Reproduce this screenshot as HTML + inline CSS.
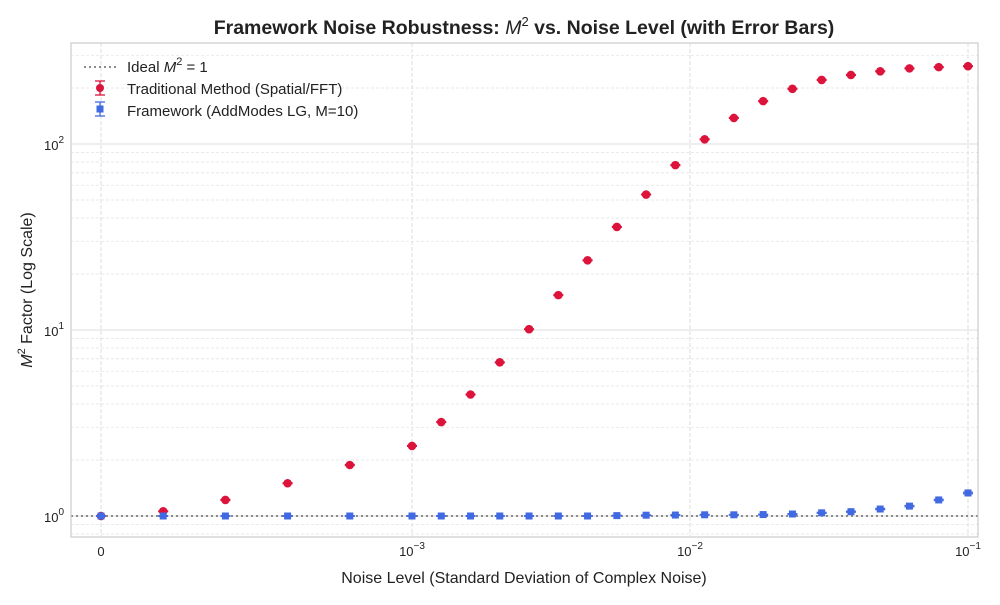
<!DOCTYPE html>
<html><head><meta charset="utf-8"><style>
body{margin:0;background:#fff;font-family:"Liberation Sans","DejaVu Sans",sans-serif;}
svg text{font-family:"Liberation Sans","DejaVu Sans",sans-serif;}
</style></head><body>
<svg id="chart" width="1000" height="600" viewBox="0 0 1000 600">
<rect x="0" y="0" width="1000" height="600" fill="#fff"/>
<g id="grid"></g>
<line x1="71" x2="978" y1="516" y2="516" stroke="#666" stroke-width="1.6" stroke-dasharray="2,3"/>
<g id="marks"></g>
<rect x="71" y="43" width="907" height="494" fill="none" stroke="#ccc" stroke-width="1.2"/>
<g id="ticks"></g>
<text x="524" y="34" text-anchor="middle" font-size="19.5" font-weight="bold" fill="#222">Framework Noise Robustness: <tspan font-style="italic" font-weight="normal">M</tspan><tspan font-size="13" font-weight="normal" dy="-8">2</tspan><tspan dy="8"> vs. Noise Level (with Error Bars)</tspan></text>
<text x="524" y="583" text-anchor="middle" font-size="16" fill="#222">Noise Level (Standard Deviation of Complex Noise)</text>
<text transform="translate(32,290) rotate(-90)" text-anchor="middle" font-size="16" fill="#222"><tspan font-style="italic">M</tspan><tspan font-size="11" dy="-7">2</tspan><tspan dy="7"> Factor (Log Scale)</tspan></text>
<g font-size="15" fill="#222">
<line x1="84" x2="116" y1="67" y2="67" stroke="#666" stroke-width="1.6" stroke-dasharray="2,3"/>
<text x="127" y="72">Ideal <tspan font-style="italic">M</tspan><tspan font-size="11" dy="-7">2</tspan><tspan dy="7"> = 1</tspan></text>
<line x1="100" x2="100" y1="81" y2="95" stroke="#dc143c" stroke-width="1.3"/><line x1="95" x2="105" y1="81" y2="81" stroke="#dc143c" stroke-width="1.3"/><line x1="95" x2="105" y1="95" y2="95" stroke="#dc143c" stroke-width="1.3"/><circle cx="100" cy="88" r="4" fill="#dc143c"/>
<text x="127" y="94">Traditional Method (Spatial/FFT)</text>
<line x1="100" x2="100" y1="102" y2="116" stroke="#4169e1" stroke-width="1.3"/><line x1="95" x2="105" y1="102" y2="102" stroke="#4169e1" stroke-width="1.3"/><line x1="95" x2="105" y1="116" y2="116" stroke="#4169e1" stroke-width="1.3"/><rect x="96.5" y="105.5" width="7" height="7" fill="#4169e1"/>
<text x="127" y="116">Framework (AddModes LG, M=10)</text>
</g>
</svg>
<script>
const noiseLevels=[0,0.0002,0.0004,0.0006,0.0008,0.001,0.001274,0.001624,0.002069,0.002637,0.003360,0.004281,0.005456,0.006952,0.008859,0.01129,0.01438,0.01833,0.02336,0.02976,0.03793,0.04833,0.06158,0.07848,0.1];
const traditionalM2=[1.0,1.06,1.22,1.50,1.88,2.38,3.2,4.5,6.7,10.1,15.4,23.7,35.8,53.5,77,106,138,170,198,221,235,246,255,259,262];
const traditionalErr=[0.005,0.005,0.006,0.008,0.01,0.012,0.016,0.022,0.033,0.05,0.077,0.12,0.18,0.27,0.38,0.53,0.69,0.85,0.99,1.1,1.2,1.2,1.3,1.3,1.3];
const frameworkM2=[1.0,1.0,1.0,1.0,1.0,1.0,1.0,1.0,1.0,1.0,1.0,1.0,1.005,1.01,1.012,1.015,1.015,1.018,1.025,1.04,1.055,1.09,1.13,1.22,1.33];
const frameworkErr=[0.004,0.004,0.004,0.004,0.004,0.004,0.004,0.004,0.004,0.004,0.004,0.004,0.004,0.004,0.004,0.004,0.004,0.004,0.005,0.006,0.007,0.008,0.009,0.01,0.012];
const NS='http://www.w3.org/2000/svg';
function X(v){return v<=0.001?101+v/0.001*311:412+Math.log10(v/0.001)*278;}
function Y(v){return 516-Math.log10(v)*186;}
function mk(tag,attrs,parent){const e=document.createElementNS(NS,tag);for(const k in attrs)e.setAttribute(k,attrs[k]);parent.appendChild(e);return e;}
const grid=document.getElementById('grid'),marks=document.getElementById('marks'),ticks=document.getElementById('ticks');
for(let d=-1;d<=2;d++){for(let m=1;m<10;m++){const v=m*Math.pow(10,d);const y=Y(v);if(y<43||y>537)continue;
const l=mk('line',{x1:71,x2:978,y1:y,y2:y,stroke:m==1?'#ddd':'#e4e4e4','stroke-width':m==1?1:0.8,'stroke-dasharray':m==1?'':'3,2'},grid);

}}
[0,0.001,0.01,0.1].forEach(v=>{const x=X(v);const l=mk('line',{x1:x,x2:x,y1:43,y2:537,stroke:'#ddd','stroke-width':1,'stroke-dasharray':'4,2'},grid);

});
const xt=[[0,'0',''],[0.001,'10','−3'],[0.01,'10','−2'],[0.1,'10','−1']];
xt.forEach(t=>{const tx=mk('text',{x:X(t[0]),y:556,'text-anchor':'middle','font-size':13,fill:'#222'},ticks);
tx.innerHTML=t[2]?'10<tspan font-size="10" dy="-7">'+t[2]+'</tspan>':'0';

});
[[0,'0'],[1,'1'],[2,'2']].forEach(t=>{const tx=mk('text',{x:64,y:Y(Math.pow(10,t[0]))+6,'text-anchor':'end','font-size':13,fill:'#222'},ticks);
tx.innerHTML='10<tspan font-size="10" dy="-7">'+t[1]+'</tspan>';

});
function errbar(x,v,e,col){const a=Y(v+e),b=Y(v-e);
mk('line',{x1:x,x2:x,y1:a,y2:b,stroke:col,'stroke-width':1.3},marks);
mk('line',{x1:x-5,x2:x+5,y1:a,y2:a,stroke:col,'stroke-width':1.3},marks);
mk('line',{x1:x-5,x2:x+5,y1:b,y2:b,stroke:col,'stroke-width':1.3},marks);}
noiseLevels.forEach((n,i)=>{const x=X(n);
errbar(x,traditionalM2[i],traditionalErr[i],'#dc143c');
const c=mk('circle',{cx:x,cy:Y(traditionalM2[i]),r:4.3,fill:'#dc143c'},marks);


errbar(x,frameworkM2[i],frameworkErr[i],'#4169e1');
const s=mk('rect',{x:x-3.5,y:Y(frameworkM2[i])-3.5,width:7,height:7,fill:'#4169e1'},marks);

});
</script>
</body></html>
